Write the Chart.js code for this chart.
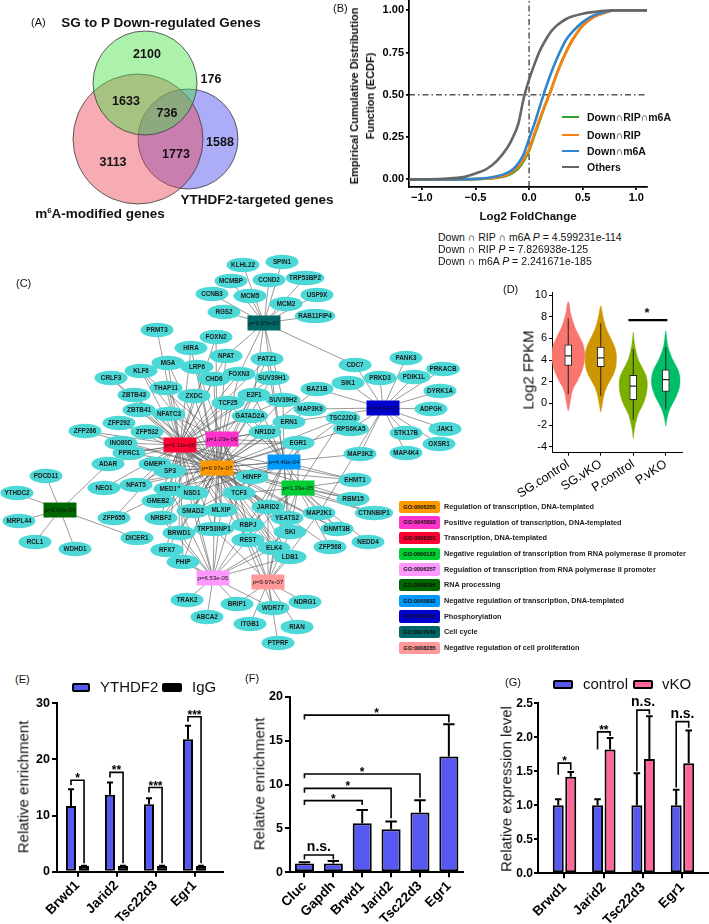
<!DOCTYPE html>
<html>
<head>
<meta charset="utf-8">
<script src="https://cdn.jsdelivr.net/npm/chart.js@4.4.1/dist/chart.umd.min.js"></script>
<style>
html,body{margin:0;padding:0;background:#fff;width:709px;height:924px;overflow:hidden;}
body{position:relative;font-family:"Liberation Sans",Arial,Helvetica,sans-serif;color:#111;}
canvas{position:absolute;}
.t{position:absolute;white-space:nowrap;line-height:1.15;z-index:5;}
</style>
</head>
<body>
<script>
// ================= DATA =================
// (A) Venn
const vennSetNames = ['SG to P Down-regulated Genes', 'm6A-modified genes', 'YTHDF2-targeted genes'];
const vennCounts = [2100, 3113, 1588, 1633, 736, 1773, 176];
// (B) ECDF
const ecdfX      = [-1.12,-0.8,-0.6,-0.5,-0.4,-0.3,-0.2,-0.15,-0.1,-0.05,0,0.05,0.1,0.15,0.2,0.25,0.3,0.35,0.4,0.5,0.6,0.7,0.8,1.1];
const ecdfTriple = [0,0,0,0.001,0.004,0.01,0.025,0.04,0.065,0.11,0.17,0.26,0.35,0.44,0.52,0.61,0.69,0.76,0.82,0.91,0.96,0.985,1,1];
const ecdfRIP    = [0,0,0,0.002,0.005,0.012,0.03,0.05,0.075,0.12,0.18,0.27,0.36,0.44,0.52,0.61,0.69,0.76,0.82,0.91,0.96,0.985,1,1];
const ecdfM6A    = [0,0,0.001,0.003,0.008,0.018,0.04,0.06,0.095,0.15,0.24,0.33,0.43,0.53,0.62,0.70,0.77,0.83,0.87,0.93,0.97,0.99,1,1];
const ecdfOthers = [0,0.004,0.015,0.035,0.06,0.11,0.19,0.25,0.33,0.48,0.59,0.68,0.76,0.82,0.87,0.905,0.93,0.95,0.963,0.98,0.99,0.997,1,1];
const ecdfNames  = ['Down\u2229RIP\u2229m6A','Down\u2229RIP','Down\u2229m6A','Others'];
const ecdfPvals  = ['4.599231e-114','7.826938e-125','2.241671e-185'];
const ecdfXTicks = [-1,-0.5,0,0.5,1];
const ecdfYTicks = [0,0.25,0.5,0.75,1];
// (C) network
const termCodes = ['O','M','R','G','P','D','B','K','C','S'];
const termGO    = ['GO:0006355','GO:0045893','GO:0006351','GO:0000122','GO:0006357','GO:0006396','GO:0045892','GO:0016310','GO:0007049','GO:0008285'];
const termNames = ['Regulation of transcription, DNA-templated','Positive regulation of transcription, DNA-templated','Transcription, DNA-templated','Negative regulation of transcription from RNA polymerase II promoter','Regulation of transcription from RNA polymerase II promoter','RNA processing','Negative regulation of transcription, DNA-templated','Phosphorylation','Cell cycle','Negative regulation of cell proliferation'];
const termP     = ['9.97e-07','1.03e-06','1.11e-05','1.39e-05','6.53e-05','2.04e-04','4.40e-04','9.97e-07','9.97e-07','9.97e-07'];
const termX     = [217,222,180,298,213,60,284,383,264,268];
const termY     = [468,439,445,488,578,510,462,408,323,582];
const nodeNames = ['KLHL22','SPIN1','MCMBP','CCND2','TRP53BP2','CCNB3','MCM5','USP9X','MCM2','RGS2','RAB11FIP4','PRMT3','FOXN2','HIRA','NPAT','PATZ1','CDC7','MGA','LRP6','KLF6','CRLF3','CHD6','FOXN3','SUV39H1','SIK1','PRKD3','BAZ1B','THAP11','ZXDC','ZBTB43','E2F1','TCF25','SUV39H2','ZBTB41','NFATC3','MAP3K9','GATAD2A','TSC22D3','ZFP292','ERN1','ZFP266','ZFP532','NR1D2','RPS6KA5','INO80D','EGR1','MAP3K2','PPRC1','ADAR','GMEB1','SP3','HINFP','PDCD11','EHMT1','NEO1','NFAT5','MED12','NSD1','TCF3','YTHDC2','RBM15','GMEB2','JARID2','SMAD2','MLXIP','CTNNBIP1','YEATS2','MAP2K1','ZFP655','NRBF2','MRPL44','RBPJ','BRWD1','TRP53INP1','DICER1','DNMT3B','SKI','REST','NEDD4','RCL1','WDHD1','RFX7','ELK4','ZFP568','LDB1','PHIP','TRAK2','BRIP1','NDRG1','WDR77','ABCA2','ITGB1','RIAN','PTPRF','PANK3','PRKACB','PDIK1L','DYRK1A','ADPGK','JAK1','STK17B','OXSR1','MAP4K4'];
const nodeX = [243,282,231,269,305,212,250,317,286,224,315,157,216,191,226,267,355,168,197,141,111,214,239,272,348,380,317,166,194,134,254,228,283,139,169,310,250,343,119,289,85,147,265,351,121,298,360,129,108,155,170,252,46,355,104,136,170,192,239,17,353,158,268,193,221,374,287,319,114,161,19,248,179,214,137,337,290,248,368,35,75,167,274,330,290,183,187,237,305,273,207,250,297,278,406,443,414,440,431,445,406,439,406];
const nodeY = [265,262,281,280,278,294,296,295,304,312,316,330,337,348,356,359,365,363,367,371,378,379,374,378,383,378,389,388,396,395,395,403,400,410,414,409,416,418,423,422,431,432,432,429,443,443,454,453,464,464,471,477,476,480,488,485,489,493,493,493,499,501,507,511,510,513,518,513,518,518,521,525,533,529,538,529,532,540,542,542,549,550,548,547,557,562,600,604,602,608,617,624,627,643,358,369,377,391,409,429,433,444,453];
const nodeTerms = ['C','C','C','C','C','C','C','C','C','C','C','R','OR','OR','ORC','ORB','CK','OR','OM','ORM','OR','OR','ORC','ORBC','K','K','OK','OR','OR','OR','ORMBC','ORB','ORBC','OR','ORM','OK','ORB','OGB','OR','OK','OR','OR','ORMBG','OK','OR','ORMBGS','OK','ORM','RD','OR','ORMB','ORBG','D','ORBG','OR','ORM','ORMBP','ORBP','ORMBGP','D','ORG','OR','ORBGS','ORMBP','ORMP','OG','ORBG','KGS','OR','ORMP','D','ORMBGPS','ORP','ORMPS','D','ORBG','ORBGPS','ORBGPS','G','D','D','ORP','ORMPS','OG','ORMPS','ORP','P','PS','S','OPS','P','S','S','S','K','K','K','K','K','K','K','K','K'];
// (D) violins
const violinGroups = ['SG.control','SG.vKO','P.control','P.vKO'];
const sgCtrlLevels = [-0.7,-0.5,0,0.5,1,1.5,2,2.5,3,3.5,4,4.5,5,5.5,6,6.5,7,7.5,8,8.5,9,9.4];
const sgCtrlWidths = [0,0.02,0.05,0.08,0.11,0.17,0.27,0.35,0.42,0.47,0.5,0.51,0.49,0.45,0.37,0.29,0.21,0.15,0.1,0.06,0.04,0];
const sgVkoLevels  = [-0.8,-0.5,0,0.5,1,1.5,2,2.5,3,3.5,4,4.5,5,5.5,6,6.5,7,7.5,8,8.5,9];
const sgVkoWidths  = [0,0.02,0.05,0.08,0.12,0.18,0.27,0.36,0.43,0.47,0.48,0.48,0.45,0.39,0.31,0.23,0.16,0.11,0.07,0.04,0];
const pCtrlLevels  = [-3.2,-3,-2.5,-2,-1.5,-1,-0.5,0,0.5,1,1.5,2,2.5,3,3.5,4,4.5,5,5.5,6,6.6];
const pCtrlWidths  = [0,0.01,0.03,0.06,0.1,0.15,0.23,0.31,0.37,0.41,0.43,0.43,0.4,0.33,0.24,0.16,0.11,0.07,0.04,0.02,0];
const pVkoLevels   = [-2.1,-1.5,-1,-0.5,0,0.5,1,1.5,2,2.5,3,3.5,4,4.5,5,5.5,6,6.7];
const pVkoWidths   = [0,0.03,0.07,0.13,0.21,0.3,0.37,0.42,0.44,0.43,0.39,0.31,0.22,0.15,0.09,0.05,0.03,0];
const boxQ1  = [3.5,3.4,0.35,1.1];
const boxMed = [4.4,4.2,1.6,2.2];
const boxQ3  = [5.4,5.2,2.6,3.1];
const whiskLo = [0.85,0.7,-1.5,-0.55];
const whiskHi = [7.85,7.4,5.0,5.2];
const violinYTicks = [-4,-2,0,2,4,6,8,10];
// (E)
const eCats = ['Brwd1','Jarid2','Tsc22d3','Egr1'];
const eYTHDF2 = [11.7,13.7,12.0,23.6];
const eYTHDF2Err = [3.0,2.2,1.1,2.4];
const eIgG = [1.0,1.0,1.0,1.0];
const eIgGErr = [0.05,0.05,0.05,0.05];
const eBrLevel = [16.3,17.7,15.0,27.6];
const eBrLeft  = [15.4,16.8,14.1,26.7];
const eBrRight = [1.5,1.5,1.5,1.5];
const eBrText  = ['*','**','***','***'];
const eYTicks = [0,10,20,30];
// (F)
const fCats = ['Cluc','Gapdh','Brwd1','Jarid2','Tsc22d3','Egr1'];
const fVals = [1.0,1.0,5.6,4.9,6.8,13.2];
const fErr  = [0.15,0.3,1.5,0.9,1.4,3.65];
const fBrFrom  = [0,0,0,0,0];
const fBrTo    = [1,2,3,4,5];
const fBrLevel = [1.97,8.16,9.56,11.2,17.9];
const fBrLeft  = [1.45,7.67,9.07,10.7,17.4];
const fBrRight = [1.45,7.67,6.15,8.5,17.05];
const fBrText  = ['n.s.','*','*','*','*'];
const fYTicks = [0,5,10,15,20];
// (G)
const gCats = ['Brwd1','Jarid2','Tsc22d3','Egr1'];
const gControl = [1.0,1.0,1.0,1.0];
const gControlErr = [0.09,0.09,0.47,0.23];
const gVKO = [1.42,1.82,1.68,1.62];
const gVKOErr = [0.07,0.17,0.63,0.48];
const gBrLevel = [1.62,2.08,2.40,2.23];
const gBrLeft  = [1.45,1.82,1.50,1.26];
const gBrRight = [1.52,2.02,2.34,2.14];
const gBrText  = ['*','**','n.s.','n.s.'];
const gYTicks = [0,0.5,1,1.5,2,2.5];

// ================= LAYOUT / STYLE =================
const FF = '"Liberation Sans", Arial, Helvetica, sans-serif';
Chart.defaults.font.family = FF;
Chart.defaults.color = '#000';
Chart.defaults.animation = false;
Chart.defaults.responsive = false;
Chart.defaults.devicePixelRatio = 1;
Chart.defaults.events = [];
Chart.defaults.plugins.legend.display = false;
Chart.defaults.plugins.tooltip.enabled = false;

function mkCanvas(b){
  const c=document.createElement('canvas');
  c.width=b.w; c.height=b.h;
  c.style.left=b.l+'px'; c.style.top=b.t+'px';
  c.style.width=b.w+'px'; c.style.height=b.h+'px';
  document.body.appendChild(c);
  return c;
}
function pad(b,a,yW,xH){
  return {left:a.l-b.l-yW, top:a.t-b.t, right:b.l+b.w-a.r, bottom:b.t+b.h-a.b-xH};
}
function axis(o){
  return {
    type:'linear', min:o.min, max:o.max, offset:false, reverse:!!o.reverse,
    afterBuildTicks:s=>{ s.ticks=o.ticks.map(v=>({value:v})); },
    afterFit:s=>{ if(o.axis==='y') s.width=o.size; else s.height=o.size; },
    ticks:{callback:(v)=>o.fmt(v), font:o.font, color:'#000', padding:o.tpad==null?3:o.tpad, autoSkip:false, maxRotation:o.rot||0, minRotation:o.rot||0},
    grid:{display:true, drawOnChartArea:false, drawTicks:true, tickLength:o.tickLen, tickWidth:o.lineW, tickColor:'#000', offset:false, lineWidth:o.lineW, color:'#000'},
    border:{display:true, color:'#000', width:o.lineW}
  };
}
function hidden(min,max,rev){ return {type:'linear',min,max,reverse:!!rev,display:false}; }

// ---------- (A) Venn ----------
const vennCX=[145,138,188], vennCY=[83,139,139], vennR=[52,65,50];
const vennFill=['rgba(70,225,70,0.45)','rgba(235,70,85,0.45)','rgba(70,70,240,0.45)'];
const vennLabelX=[147,113,220,126,167,176,211], vennLabelY=[55,163,143,102,114,155,80];
const bA={l:0,t:0,w:330,h:250};
new Chart(mkCanvas(bA),{
  type:'scatter',
  data:{datasets:[0,1,2].map(i=>({
    data:[{x:vennCX[i],y:vennCY[i]}],
    pointRadius:(ctx)=>{const s=ctx.chart.scales.x; return Math.abs(s.getPixelForValue(vennR[i])-s.getPixelForValue(0));},
    backgroundColor:vennFill[i], borderColor:'#3a3a3a', borderWidth:0.8, clip:false
  }))},
  options:{layout:{padding:0}, scales:{x:hidden(0,330), y:hidden(0,250,true)}},
  plugins:[{id:'venntext', afterDatasetsDraw(chart){
    const {ctx,scales:{x,y}}=chart; ctx.save();
    ctx.font='bold 12.5px '+FF; ctx.fillStyle='#111'; ctx.textAlign='center'; ctx.textBaseline='middle';
    vennCounts.forEach((n,i)=>ctx.fillText(String(n), x.getPixelForValue(vennLabelX[i]), y.getPixelForValue(vennLabelY[i])));
    ctx.restore();
  }}]
});

// ---------- (B) ECDF ----------
const bB={l:360,t:-14,w:300,h:230}, aB={l:409,t:1,r:647,b:187};
const ecdfColors=['#33a02c','#ff7f0e','#2f86cc','#666666'];
const ecdfSeries=[ecdfTriple,ecdfRIP,ecdfM6A,ecdfOthers];
const ecdfDs = ecdfSeries.map((s,k)=>({
  type:'line', data:ecdfX.map((x,i)=>({x,y:s[i]})), borderColor:ecdfColors[k], borderWidth:2.6,
  pointRadius:0, cubicInterpolationMode:'monotone', order:4-k
}));
ecdfDs.push({type:'line', data:[{x:0,y:-0.045},{x:0,y:1.055}], borderColor:'#000', borderWidth:1, borderDash:[6,3,1.5,3], pointRadius:0, order:6});
ecdfDs.push({type:'line', data:[{x:-1.12,y:0.5},{x:1.1,y:0.5}], borderColor:'#000', borderWidth:1, borderDash:[6,3,1.5,3], pointRadius:0, order:6});
new Chart(mkCanvas(bB),{
  type:'line',
  data:{datasets:ecdfDs},
  options:{layout:{padding:pad(bB,aB,30,22)},
    scales:{
      x:axis({axis:'x',min:-1.12,max:1.1,ticks:ecdfXTicks,fmt:v=>(v<0?'\u2212':'')+Math.abs(v).toFixed(1),size:22,font:{size:11,weight:'bold'},tickLen:3,lineW:1.8,tpad:1}),
      y:axis({axis:'y',min:-0.045,max:1.055,ticks:ecdfYTicks,fmt:v=>v.toFixed(2),size:30,font:{size:11,weight:'bold'},tickLen:3,lineW:1.8,tpad:2})
    }}
});

// ---------- (C) Network ----------
const termColors=['#ff9900','#ff33cc','#ff0033','#00cc33','#ff99ff','#006600','#0099ff','#0000cc','#006666','#ff9999'];
const bC={l:0,t:250,w:480,h:410};
new Chart(mkCanvas(bC),{
  type:'scatter',
  data:{datasets:[
    {data:nodeX.map((x,i)=>({x,y:nodeY[i]})), pointRadius:0},
    {data:termX.map((x,i)=>({x,y:termY[i]})), pointRadius:0}
  ]},
  options:{layout:{padding:0}, scales:{x:hidden(0,480), y:hidden(250,660,true)}},
  plugins:[{id:'net',
    beforeDatasetsDraw(chart){
      const ctx=chart.ctx, g=chart.getDatasetMeta(0).data, t=chart.getDatasetMeta(1).data;
      ctx.save(); ctx.strokeStyle='rgba(85,85,85,0.85)'; ctx.lineWidth=0.7; ctx.beginPath();
      nodeTerms.forEach((s,i)=>{ for(const c of s){ const k=termCodes.indexOf(c); ctx.moveTo(g[i].x,g[i].y); ctx.lineTo(t[k].x,t[k].y);} });
      ctx.stroke(); ctx.restore();
    },
    afterDatasetsDraw(chart){
      const ctx=chart.ctx, g=chart.getDatasetMeta(0).data, t=chart.getDatasetMeta(1).data;
      ctx.save();
      ctx.font='bold 6.3px '+FF; ctx.textAlign='center'; ctx.textBaseline='middle';
      g.forEach((p,i)=>{
        const w=Math.max(33, ctx.measureText(nodeNames[i]).width+7);
        ctx.beginPath(); ctx.ellipse(p.x,p.y,w/2,7.3,0,0,Math.PI*2);
        ctx.fillStyle='#4dd8d8'; ctx.fill();
        ctx.fillStyle='#1a1a1a'; ctx.fillText(nodeNames[i],p.x,p.y+0.3);
      });
      t.forEach((p,k)=>{
        ctx.fillStyle=termColors[k]; ctx.fillRect(p.x-16.5,p.y-7.5,33,15);
        ctx.fillStyle='#111';
        ctx.font='italic 6px '+FF; const pw=ctx.measureText('p').width;
        ctx.font='6px '+FF; const rest='='+termP[k]; const rw=ctx.measureText(rest).width;
        const x0=p.x-(pw+rw)/2;
        ctx.textAlign='left';
        ctx.font='italic 6px '+FF; ctx.fillText('p',x0,p.y+0.3);
        ctx.font='6px '+FF; ctx.fillText(rest,x0+pw,p.y+0.3);
        ctx.textAlign='center';
      });
      ctx.restore();
    }
  }]
});

// ---------- (D) Violin ----------
const violinLevels=[sgCtrlLevels,sgVkoLevels,pCtrlLevels,pVkoLevels];
const violinWidths=[sgCtrlWidths,sgVkoWidths,pCtrlWidths,pVkoWidths];
const violinColors=['#f8766d','#cd9600','#7cae00','#00be67'];
const dDs=[];
violinGroups.forEach((name,g)=>{
  const L=violinLevels[g], W=violinWidths[g], c=g+1;
  const right=L.map((l,j)=>({x:c+W[j],y:l}));
  const left=L.map((l,j)=>({x:c-W[j],y:l})).reverse();
  dDs.push({type:'line', data:right.concat(left.slice(1)), fill:'shape', backgroundColor:violinColors[g], borderColor:violinColors[g], borderWidth:0.5, pointRadius:0, tension:0.3, order:10});
  dDs.push({type:'line', data:[{x:c,y:whiskLo[g]},{x:c,y:whiskHi[g]}], borderColor:'#222', borderWidth:1, pointRadius:0, order:5});
  dDs.push({type:'line', data:[{x:c-0.1,y:boxMed[g]},{x:c+0.1,y:boxMed[g]}], borderColor:'#222', borderWidth:1.3, pointRadius:0, order:1});
});
dDs.push({type:'bar', data:violinGroups.map((n,g)=>({x:g+1,y:[boxQ1[g],boxQ3[g]]})), backgroundColor:'#fff', borderColor:'#222', borderWidth:1, borderSkipped:false, barThickness:7, order:3});
dDs.push({type:'line', data:[{x:2.85,y:7.7},{x:4.05,y:7.7}], borderColor:'#000', borderWidth:2.2, pointRadius:0, order:1});
const bD={l:500,t:275,w:209,h:225}, aD={l:552,t:292,r:682,b:452.7};
new Chart(mkCanvas(bD),{
  type:'bar',
  data:{datasets:dDs},
  options:{layout:{padding:pad(bD,aD,24,45)},
    scales:{
      x:axis({axis:'x',min:0.5,max:4.5,ticks:[1,2,3,4],fmt:v=>violinGroups[v-1],size:45,font:{size:12.5},tickLen:3,lineW:1,rot:33,tpad:1}),
      y:axis({axis:'y',min:-4.55,max:10.29,ticks:violinYTicks,fmt:v=>String(v),size:24,font:{size:11},tickLen:3,lineW:1,tpad:2})
    }}
});

// ---------- bar helpers ----------
function errPlugin(){ return {id:'errbars', afterDatasetsDraw(chart){
  const ctx=chart.ctx, y=chart.scales.y; ctx.save(); ctx.strokeStyle='#000'; ctx.lineWidth=2;
  chart.data.datasets.forEach((ds,di)=>{ if(!ds.errors) return;
    chart.getDatasetMeta(di).data.forEach((bar,i)=>{
      const top=y.getPixelForValue(ds.data[i].y+ds.errors[i]); const w=bar.width*0.3;
      ctx.beginPath(); ctx.moveTo(bar.x,bar.y); ctx.lineTo(bar.x,top); ctx.moveTo(bar.x-w,top); ctx.lineTo(bar.x+w,top); ctx.stroke();
    });
  }); ctx.restore();
}}; }
function bracketPlugin(spec){ return {id:'brackets', afterDatasetsDraw(chart){
  const ctx=chart.ctx, y=chart.scales.y; ctx.save(); ctx.strokeStyle='#000'; ctx.fillStyle='#000'; ctx.lineWidth=1.6;
  spec.level.forEach((lv,i)=>{
    const L=chart.getDatasetMeta(spec.fromDs[i]).data[spec.fromIdx[i]], R=chart.getDatasetMeta(spec.toDs[i]).data[spec.toIdx[i]];
    const yl=y.getPixelForValue(lv);
    ctx.beginPath(); ctx.moveTo(L.x,y.getPixelForValue(spec.lEnd[i])); ctx.lineTo(L.x,yl); ctx.lineTo(R.x,yl); ctx.lineTo(R.x,y.getPixelForValue(spec.rEnd[i])); ctx.stroke();
    const s=spec.text[i]; const star=/^\*+$/.test(s);
    ctx.font=(star?'bold 12px ':'bold 14px ')+FF; ctx.textAlign='center'; ctx.textBaseline='alphabetic';
    ctx.fillText(s,(L.x+R.x)/2, star?yl+2:yl-4);
  }); ctx.restore();
}}; }
const xBold={size:13.5,weight:'bold'};
const yBold={size:12.5,weight:'bold'};

// ---------- (E) ----------
const bE={l:0,t:688,w:235,h:236}, aE={l:57,t:703.3,r:223,b:871.7};
new Chart(mkCanvas(bE),{
  type:'bar',
  data:{datasets:[
    {data:eCats.map((c,i)=>({x:i+1,y:eYTHDF2[i]})), errors:eYTHDF2Err, backgroundColor:'#5757f2', borderColor:'#000', borderWidth:2, borderSkipped:false, categoryPercentage:0.67, barPercentage:0.77},
    {data:eCats.map((c,i)=>({x:i+1,y:eIgG[i]})), errors:eIgGErr, backgroundColor:'#000', borderColor:'#000', borderWidth:2, borderSkipped:false, categoryPercentage:0.67, barPercentage:0.77}
  ]},
  options:{layout:{padding:pad(bE,aE,40,50)},
    scales:{
      x:axis({axis:'x',min:0.474,max:4.73,ticks:[1,2,3,4],fmt:v=>eCats[v-1],size:50,font:xBold,tickLen:5,lineW:2,rot:45,tpad:1}),
      y:axis({axis:'y',min:0,max:30,ticks:eYTicks,fmt:v=>String(v),size:40,font:yBold,tickLen:5,lineW:2,tpad:2})
    }},
  plugins:[errPlugin(), bracketPlugin({fromDs:[0,0,0,0],fromIdx:[0,1,2,3],toDs:[1,1,1,1],toIdx:[0,1,2,3],level:eBrLevel,lEnd:eBrLeft,rEnd:eBrRight,text:eBrText})]
});

// ---------- (F) ----------
const bF={l:235,t:680,w:240,h:244}, aF={l:290,t:696.7,r:463.3,b:872.3};
new Chart(mkCanvas(bF),{
  type:'bar',
  data:{datasets:[
    {data:fCats.map((c,i)=>({x:i+1,y:fVals[i]})), errors:fErr, backgroundColor:'#5757f2', borderColor:'#000', borderWidth:2, borderSkipped:false, categoryPercentage:1, barPercentage:0.66}
  ]},
  options:{layout:{padding:pad(bF,aF,40,50)},
    scales:{
      x:axis({axis:'x',min:0.5,max:6.5,ticks:[1,2,3,4,5,6],fmt:v=>fCats[v-1],size:50,font:xBold,tickLen:5,lineW:2,rot:45,tpad:1}),
      y:axis({axis:'y',min:0,max:20,ticks:fYTicks,fmt:v=>String(v),size:40,font:yBold,tickLen:5,lineW:2,tpad:2})
    }},
  plugins:[errPlugin(), bracketPlugin({fromDs:[0,0,0,0,0],fromIdx:fBrFrom,toDs:[0,0,0,0,0],toIdx:fBrTo,level:fBrLevel,lEnd:fBrLeft,rEnd:fBrRight,text:fBrText})]
});

// ---------- (G) ----------
const bG={l:475,t:688,w:250,h:236}, aG={l:538,t:703.3,r:708,b:873.3};
new Chart(mkCanvas(bG),{
  type:'bar',
  data:{datasets:[
    {data:gCats.map((c,i)=>({x:i+1,y:gControl[i]})), errors:gControlErr, backgroundColor:'#5757f2', borderColor:'#000', borderWidth:2, borderSkipped:false, categoryPercentage:0.636, barPercentage:0.88},
    {data:gCats.map((c,i)=>({x:i+1,y:gVKO[i]})), errors:gVKOErr, backgroundColor:'#ff6699', borderColor:'#000', borderWidth:2, borderSkipped:false, categoryPercentage:0.636, barPercentage:0.88}
  ]},
  options:{layout:{padding:pad(bG,aG,40,50)},
    scales:{
      x:axis({axis:'x',min:0.326,max:4.65,ticks:[1,2,3,4],fmt:v=>gCats[v-1],size:50,font:xBold,tickLen:5,lineW:2,rot:45,tpad:1}),
      y:axis({axis:'y',min:0,max:2.5,ticks:gYTicks,fmt:v=>v.toFixed(1),size:40,font:{size:12,weight:'bold'},tickLen:4,lineW:2,tpad:1})
    }},
  plugins:[errPlugin(), bracketPlugin({fromDs:[0,0,0,0],fromIdx:[0,1,2,3],toDs:[1,1,1,1],toIdx:[0,1,2,3],level:gBrLevel,lEnd:gBrLeft,rEnd:gBrRight,text:gBrText})]
});

// ================= TEXT =================
function txt(html,x,y,css,mode){
  const d=document.createElement('div'); d.className='t'; d.innerHTML=html;
  d.style.cssText+=css; d.style.left=x+'px'; d.style.top=y+'px';
  let tr='translateY(-50%)';
  if(mode==='c') tr='translate(-50%,-50%)';
  if(mode==='r') tr='translate(-50%,-50%) rotate(-90deg)';
  d.style.transform=tr; document.body.appendChild(d); return d;
}
function box(x,y,w,h,bg,css){
  const d=document.createElement('div'); d.style.cssText='position:absolute;z-index:5;box-sizing:border-box;'+(css||'');
  d.style.left=x+'px'; d.style.top=(y-h/2)+'px'; d.style.width=w+'px'; d.style.height=h+'px'; d.style.background=bg;
  document.body.appendChild(d); return d;
}
// A
txt('(A)',31,22,'font-size:11px;');
txt(vennSetNames[0],161,23,'font-size:13.5px;font-weight:bold;','c');
txt('YTHDF2-targeted genes',257,200,'font-size:13.5px;font-weight:bold;','c');
txt('m<sup style="font-size:8px;vertical-align:5px;">6</sup>A-modified genes',100,214,'font-size:13.5px;font-weight:bold;','c');
// B
txt('(B)',333,8,'font-size:11px;');
txt('Empirical Cumulative Distribution<br>Function (ECDF)',362,96,'font-size:11px;font-weight:bold;text-align:center;line-height:16px;','r');
txt('Log2 FoldChange',528,217,'font-size:11.5px;font-weight:bold;','c');
txt('Down \u2229 RIP \u2229 m6A <i>P</i> = '+ecdfPvals[0],438,237,'font-size:10.5px;');
txt('Down \u2229 RIP <i>P</i> = '+ecdfPvals[1],438,249,'font-size:10.5px;');
txt('Down \u2229 m6A <i>P</i> = '+ecdfPvals[2],438,261,'font-size:10.5px;');
const legY=[117,135,151,167];
ecdfNames.forEach((n,i)=>{ box(562,legY[i],17,2.6,ecdfColors[i]); txt(n,587,legY[i],'font-size:10.5px;font-weight:bold;'); });
// C
txt('(C)',16,283,'font-size:11px;');
const goY=[507,522.5,538,554,569.5,585,601,616.5,632,648];
termGO.forEach((go,i)=>{
  const b=box(399,goY[i],41,12.5,termColors[i],'border-radius:2px;font:bold 5.6px '+FF+';color:#111;text-align:center;line-height:12.5px;');
  b.textContent=go;
  txt(termNames[i],444,goY[i],'font-size:7.3px;font-weight:bold;color:#222;');
});
// D
txt('(D)',503,289,'font-size:11px;');
txt('Log2 FPKM',528,370,'font-size:15px;','r');
txt('*',647,313,'font-size:13px;font-weight:bold;','c');
// E
txt('(E)',15,679,'font-size:11px;');
box(72,687,18,9,'#5757f2','border:2px solid #000;border-radius:2px;');
txt('YTHDF2',100,687,'font-size:15px;');
box(162,687,20,9,'#000','border:2px solid #000;border-radius:2px;');
txt('IgG',192,687,'font-size:15px;');
txt('Relative enrichment',23,787,'font-size:15px;','r');
// F
txt('(F)',245,678,'font-size:11px;');
txt('Relative enrichment',259,784,'font-size:15px;','r');
// G
txt('(G)',505,682,'font-size:11px;');
box(553,684,20,9,'#5757f2','border:2px solid #000;border-radius:2px;');
txt('control',583,684,'font-size:15px;');
box(633,684,20,9,'#ff6699','border:2px solid #000;border-radius:2px;');
txt('vKO',662,684,'font-size:15px;');
txt('Relative expression level',506,789,'font-size:15px;','r');
</script>
</body>
</html>
